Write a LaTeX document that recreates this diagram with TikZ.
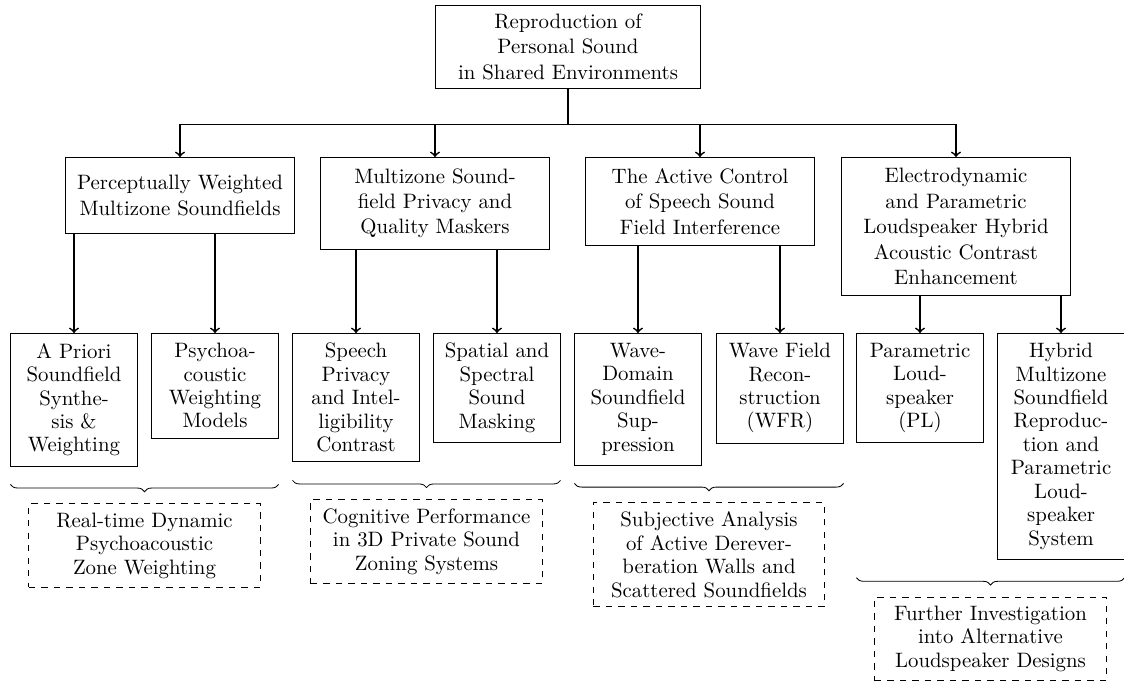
\documentclass[tikz,border=0pt]{standalone}
\usepackage{amsmath}
\usepackage{tikz}
\usetikzlibrary{calc}
\usetikzlibrary{positioning}
\usetikzlibrary{decorations.pathreplacing}

\tikzset{
  rootbox/.style={draw, align=center, text width=4.2cm, inner sep=4pt, anchor=north, font=\fontsize{10}{12.2}\selectfont},
  topicbox/.style={draw, align=center, text width=3.5cm, inner sep=5.3pt, minimum height=36.5pt, anchor=north, font=\fontsize{10}{12.2}\selectfont},
  subbox/.style={draw, align=center, text width=1.8cm, inner sep=4.7pt, anchor=north, font=\fontsize{10}{11.25}\selectfont},
  futurebox/.style={draw, dashed, align=center, text width=3.6cm, inner sep=4.3pt, anchor=north, font=\fontsize{10}{11.25}\selectfont},
  link/.style={thick, ->},
  groupbrace/.style={decorate, decoration={brace, mirror, amplitude=3.5pt}},
}

\begin{document}
\begin{tikzpicture}[x=0.48pt, y=0.48pt]
    \useasboundingbox (0,0) rectangle (1124,-680);

    % 1. Root of the tree
    \node[rootbox] (root) at (568,-5) {Reproduction of\\Personal Sound\\in Shared Environments};

    % 2. The four research topics
    \node[topicbox] (t1) at (180,-157) {Perceptually Weighted Multizone Soundfields};
    \node[topicbox] (t2) at (435,-157) {Multizone Soundfield Privacy and Quality Maskers};
    \node[topicbox] (t3) at (700,-157) {The Active Control of Speech Sound Field Interference};
    \node[topicbox] (t4) at (956,-157) {Electrodynamic and Parametric Loudspeaker Hybrid Acoustic Contrast Enhancement};

    % 3. Sub-topics, two under each topic
    \node[subbox] (s1a) at (74,-333) {A Priori Soundfield Synthesis \& Weighting};
    \node[subbox] (s1b) at (215,-333) {Psychoa\-coustic Weighting Models};
    \node[subbox] (s2a) at (356,-333) {Speech Privacy and Intelligibility Contrast};
    \node[subbox] (s2b) at (497,-333) {Spatial and Spectral Sound Masking};
    \node[subbox] (s3a) at (638,-333) {Wave-Domain Soundfield Suppression};
    \node[subbox] (s3b) at (780,-333) {Wave Field Reconstruction (WFR)};
    \node[subbox] (s4a) at (920,-333) {Parametric Loudspeaker (PL)};
    \node[subbox] (s4b) at (1061,-333) {Hybrid Multizone Soundfield Reproduction and Parametric Loudspeaker System};

    % 4. Arrows from the root down to the topics
    \foreach \t in {t1, t2, t3, t4} {
        \draw[link] (root.south) -- ++(0,-36) -| (\t.north);
    }

    % 5. Arrows from each topic down to its sub-topics
    \foreach \t/\s in {t1/s1a, t1/s1b, t2/s2a, t2/s2b, t3/s3a, t3/s3b, t4/s4a, t4/s4b} {
        \draw[link] (\s.north |- \t.south) -- (\s.north);
    }

    % 6. Braces under each pair of sub-topics
    \foreach \g/\l/\r/\low in {1/s1a/s1b/s1a, 2/s2a/s2b/s2a, 3/s3a/s3b/s3a, 4/s4a/s4b/s4b} {
        \coordinate (g\g a) at ($(\l.west |- \low.south)+(0,-18)$);
        \coordinate (g\g b) at (\r.east |- g\g a);
        \draw[groupbrace] (g\g a) -- (g\g b);
    }

    % 7. Future work, dashed
    \node[futurebox] (f1) at ($(g1a)!0.5!(g1b)+(0,-19)$) {Real-time Dynamic Psychoacoustic Zone Weighting};
    \node[futurebox] (f2) at ($(g2a)!0.5!(g2b)+(0,-19)$) {Cognitive Performance in 3D Private Sound Zoning Systems};
    \node[futurebox] (f3) at ($(g3a)!0.5!(g3b)+(0,-19)$) {Subjective Analysis of Active Dereverberation Walls and Scattered Soundfields};
    \node[futurebox] (f4) at ($(g4a)!0.5!(g4b)+(0,-19)$) {Further Investigation into Alternative Loudspeaker Designs};

\end{tikzpicture}
\end{document}
